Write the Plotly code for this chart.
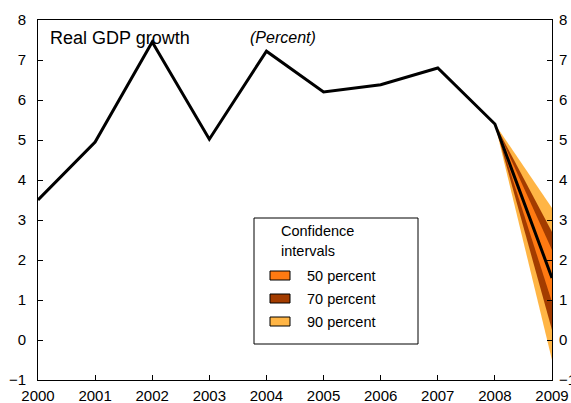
import plotly.graph_objects as go

years = [2000, 2001, 2002, 2003, 2004, 2005, 2006, 2007, 2008, 2009]
gdp = [3.5, 4.95, 7.45, 5.02, 7.22, 6.2, 6.38, 6.8, 5.4, 1.55]

# confidence bands: from 2008 value to (low, high) at 2009
band_names = ["90 percent", "70 percent", "50 percent"]
band_low = [-0.5, 0.25, 0.95]
band_high = [3.3, 2.7, 2.25]
band_colors = ["#FFB545", "#A33C00", "#FF7A12"]

legend_title = ["Confidence", "intervals"]
legend_names = ["50 percent", "70 percent", "90 percent"]
legend_colors = ["#FF7A12", "#A33C00", "#FFB545"]

y_ticks = [-1, 0, 1, 2, 3, 4, 5, 6, 7, 8]

FAM = "Arial"

fig = go.Figure()
for name, lo, hi, col in zip(band_names, band_low, band_high, band_colors):
    fig.add_trace(go.Scatter(
        x=[years[-2], years[-1], years[-1], years[-2]],
        y=[gdp[-2], hi, lo, gdp[-2]],
        fill="toself", fillcolor=col, mode="none",
        name=name, showlegend=False, hoverinfo="skip"))

fig.add_trace(go.Scatter(x=years, y=gdp, mode="lines",
                         line=dict(color="black", width=3), showlegend=False))

fig.add_trace(go.Scatter(x=[years[0]], y=[gdp[0]], yaxis="y2", mode="markers",
                         marker=dict(opacity=0), showlegend=False, hoverinfo="skip"))

font = dict(family=FAM, size=15, color="black")
axis_common = dict(ticks="inside", ticklen=5, tickcolor="black", showline=True,
                   linecolor="black", linewidth=1, showgrid=False, zeroline=False,
                   tickfont=font, automargin=False)

# plot-area pixel helpers for the hand-drawn legend (paper coordinates)
L, R, T, B = 38, 552, 20, 380
def px(x):
    return (x - L) / (R - L)
def py(y):
    return (B - y) / (B - T)

shapes = [dict(type="rect", xref="paper", yref="paper",
               x0=px(254), x1=px(418), y0=py(344), y1=py(218),
               line=dict(color="black", width=1), fillcolor="white", layer="above")]
annotations = [
    dict(text="Real GDP growth", x=0.019, y=py(37.5), xref="paper", yref="paper",
         xanchor="left", yanchor="middle", showarrow=False,
         font=dict(size=18, family=FAM, color="black")),
    dict(text="<i>(Percent)</i>", x=px(283), y=py(37.5), xref="paper", yref="paper",
         xanchor="center", yanchor="middle", showarrow=False,
         font=dict(size=16, family=FAM, color="black")),
]
for txt, yc in zip(legend_title, [231, 251]):
    annotations.append(dict(text=txt, x=px(279), y=py(yc), xref="paper", yref="paper",
                            xanchor="left", yanchor="middle", showarrow=False,
                            font=dict(size=14.5, family=FAM, color="black")))
for name, col, yc in zip(legend_names, legend_colors, [275.5, 298.5, 321.5]):
    shapes.append(dict(type="rect", xref="paper", yref="paper",
                       x0=px(270), x1=px(290), y0=py(yc + 4.5), y1=py(yc - 4.5),
                       line=dict(color="black", width=1), fillcolor=col, layer="above"))
    annotations.append(dict(text=name, x=px(305), y=py(yc + 0.5), xref="paper", yref="paper",
                            xanchor="left", yanchor="middle", showarrow=False,
                            font=dict(size=14.5, family=FAM, color="black")))

fig.update_layout(
    width=571, height=403,
    margin=dict(l=L, r=571 - R, t=T, b=403 - B),
    paper_bgcolor="white", plot_bgcolor="white",
    font=font, showlegend=False,
    xaxis=dict(range=[2000, 2009], tickvals=years, ticktext=[str(y) for y in years],
               mirror=True, ticklabelstandoff=2, **axis_common),
    yaxis=dict(range=[-1, 8], tickvals=y_ticks, ticklabelstandoff=8, **axis_common),
    yaxis2=dict(range=[-1, 8], tickvals=y_ticks, overlaying="y", side="right",
                ticklabelstandoff=3, **axis_common),
    shapes=shapes,
    annotations=annotations,
)
fig.write_html("out.html")
